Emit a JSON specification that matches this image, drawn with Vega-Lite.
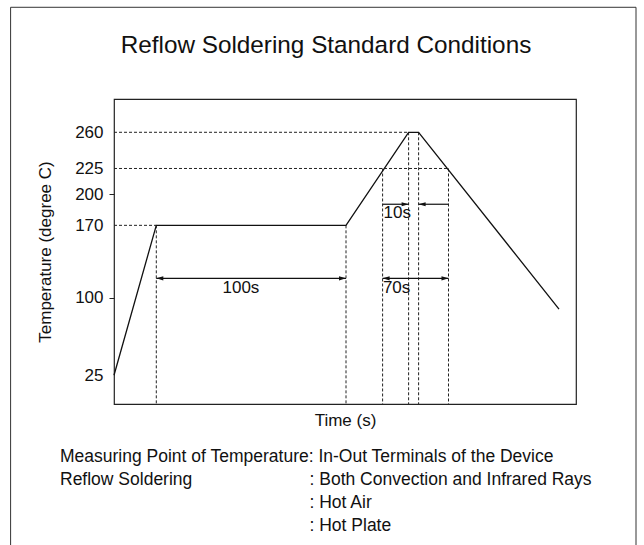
{
  "$schema": "https://vega.github.io/schema/vega-lite/v6.json",
  "width": 462,
  "height": 305,
  "autosize": {"type": "none"},
  "padding": {"left": 114, "top": 99, "right": 68, "bottom": 141},
  "background": "white",
  "title": {
    "text": "Reflow Soldering Standard Conditions",
    "fontSize": 24.3,
    "fontWeight": "normal",
    "anchor": "middle",
    "dx": -19,
    "offset": -52,
    "color": "#111"
  },
  "config": {
    "font": "Liberation Sans",
    "view": {"stroke": "#222", "strokeWidth": 1.2}
  },
  "datasets": {
    "frame": [
      {"t": -103.4, "t2": 522, "temp": 380.9, "temp2": -250}
    ],
    "profile": [
      {"t": 0, "temp": 25},
      {"t": 42.3, "temp": 170},
      {"t": 232, "temp": 170},
      {"t": 294.6, "temp": 260},
      {"t": 304.6, "temp": 260},
      {"t": 445, "temp": 89}
    ],
    "hguide": [
      {"t": 0, "t2": 294.6, "temp": 260},
      {"t": 0, "t2": 334.5, "temp": 225},
      {"t": 0, "t2": 42.3, "temp": 170}
    ],
    "vguide": [
      {"t": 42.3, "temp": 170},
      {"t": 232, "temp": 170},
      {"t": 268.6, "temp": 225},
      {"t": 294.6, "temp": 260},
      {"t": 304.6, "temp": 260},
      {"t": 334.5, "temp": 225}
    ],
    "spans": [
      {"t": 42.3, "t2": 232, "temp": 118.8},
      {"t": 268.6, "t2": 334.5, "temp": 118.8},
      {"t": 268.6, "t2": 294.6, "temp": 190.4},
      {"t": 304.6, "t2": 334.5, "temp": 190.4}
    ],
    "heads": [
      {"t": 42.3, "temp": 118.8, "dir": "left"},
      {"t": 232, "temp": 118.8, "dir": "right"},
      {"t": 268.6, "temp": 118.8, "dir": "left"},
      {"t": 334.5, "temp": 118.8, "dir": "right"},
      {"t": 294.6, "temp": 190.4, "dir": "right"},
      {"t": 304.6, "temp": 190.4, "dir": "left"}
    ],
    "labels": [
      {"t": 108.5, "temp": 116.7, "label": "100s"},
      {"t": 268.9, "temp": 116.7, "label": "70s"},
      {"t": 269.6, "temp": 189.2, "label": "10s"}
    ],
    "notes": [
      {"t": -54, "temp": -54.4, "label": "Measuring Point of Temperature: In-Out Terminals of the Device"},
      {"t": -54, "temp": -76, "label": "Reflow Soldering"},
      {"t": 195.5, "temp": -76, "label": ": Both Convection and Infrared Rays"},
      {"t": 195.5, "temp": -99, "label": ": Hot Air"},
      {"t": 195.5, "temp": -120.5, "label": ": Hot Plate"}
    ]
  },
  "encoding": {
    "x": {
      "field": "t",
      "type": "quantitative",
      "scale": {"domain": [0, 462], "nice": false, "zero": false},
      "axis": {
        "title": "Time (s)",
        "labels": false,
        "ticks": false,
        "domain": false,
        "grid": false,
        "titlePadding": 8,
        "titleFontSize": 17,
        "titleFontWeight": "normal",
        "titleColor": "#111"
      }
    },
    "y": {
      "field": "temp",
      "type": "quantitative",
      "scale": {"domain": [-2.8, 292.2], "nice": false, "zero": false},
      "axis": {
        "title": "Temperature (degree C)",
        "values": [25, 100, 170, 200, 225, 260],
        "grid": false,
        "domain": false,
        "tickSize": 5,
        "tickColor": "#222",
        "tickOpacity": {"condition": {"test": "datum.value == 100 || datum.value == 200", "value": 1}, "value": 0},
        "labelPadding": 6,
        "labelFontSize": 17,
        "labelColor": "#111",
        "labelOverlap": false,
        "titleFontSize": 17,
        "titleFontWeight": "normal",
        "titlePadding": 20,
        "titleColor": "#111"
      }
    }
  },
  "layer": [
    {
      "data": {"name": "frame"},
      "mark": {"type": "rect", "fill": "transparent", "stroke": "#333", "strokeWidth": 1},
      "encoding": {"x2": {"field": "t2"}, "y2": {"field": "temp2"}}
    },
    {
      "data": {"name": "hguide"},
      "mark": {"type": "rule", "stroke": "#222", "strokeWidth": 1, "strokeDash": [3, 2]},
      "encoding": {"x2": {"field": "t2"}}
    },
    {
      "data": {"name": "vguide"},
      "mark": {"type": "rule", "stroke": "#222", "strokeWidth": 1, "strokeDash": [3, 2]},
      "encoding": {"y2": {"datum": -2.8}}
    },
    {
      "data": {"name": "profile"},
      "mark": {"type": "line", "stroke": "#111", "strokeWidth": 1.3},
      "encoding": {}
    },
    {
      "data": {"name": "spans"},
      "mark": {"type": "rule", "stroke": "#111", "strokeWidth": 1.2},
      "encoding": {"x2": {"field": "t2"}}
    },
    {
      "data": {"name": "heads"},
      "mark": {"type": "point", "filled": true, "color": "#111", "opacity": 1, "size": 196},
      "encoding": {
        "shape": {
          "field": "dir",
          "type": "nominal",
          "scale": {"domain": ["left", "right"], "range": ["M0,0L1,-0.3L1,0.3Z", "M0,0L-1,-0.3L-1,0.3Z"]},
          "legend": null
        }
      }
    },
    {
      "data": {"name": "labels"},
      "mark": {"type": "text", "align": "left", "baseline": "top", "fontSize": 17, "color": "#111"},
      "encoding": {"text": {"field": "label"}}
    },
    {
      "data": {"name": "notes"},
      "mark": {"type": "text", "align": "left", "baseline": "middle", "fontSize": 17.5, "color": "#111"},
      "encoding": {"text": {"field": "label"}}
    }
  ]
}
